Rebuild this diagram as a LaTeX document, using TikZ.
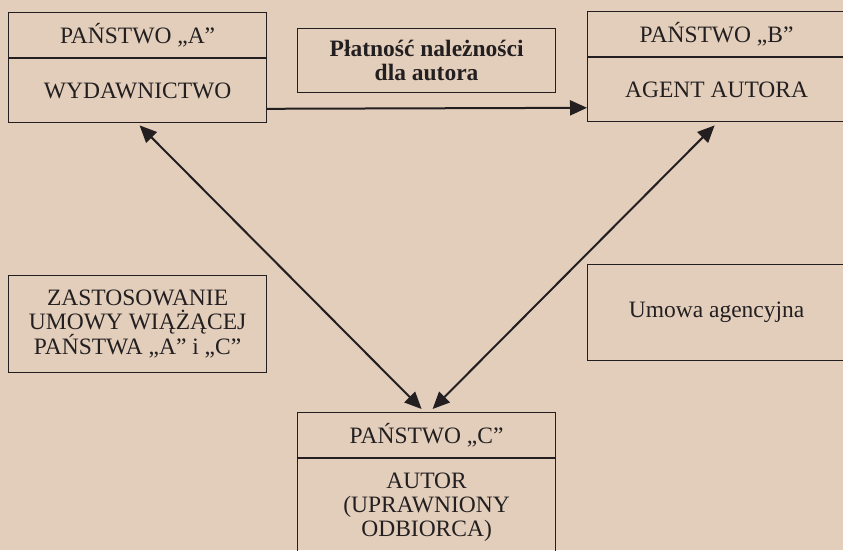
\documentclass[tikz,border=0pt]{standalone}
\usepackage{fontspec}
\setmainfont{Liberation Serif}
\usetikzlibrary{arrows.meta}
\definecolor{tlo}{RGB}{226,206,187}
\definecolor{tusz}{RGB}{35,31,32}

\begin{document}
\begin{tikzpicture}[x=1pt, y=-1pt,
  >={Triangle[length=17pt, width=15pt]},
  ramka/.style={draw=tusz, line width=1.2pt, text=tusz, align=center,
    inner sep=0pt, anchor=north west, minimum width=258pt,
    font=\fontsize{23.5}{24}\selectfont},
  strzalka/.style={draw=tusz, line width=2pt}]
  % --- background ---
  \useasboundingbox (0,0) rectangle (843,550);
  \fill[tlo] (0,0) rectangle (843,550);
  \clip (0,0) rectangle (843,550);

  % --- Panstwo A ---
  \node[ramka, minimum height=45pt] (panA) at (8,12) {PAŃSTWO „A”};
  \node[ramka, minimum height=64pt] (wydA) at (panA.south west) {WYDAWNICTWO};

  % --- Panstwo B ---
  \node[ramka, minimum height=45pt] (panB) at (587,11) {PAŃSTWO „B”};
  \node[ramka, minimum height=64pt] (agentB) at (panB.south west) {AGENT AUTORA};

  % --- Panstwo C ---
  \node[ramka, minimum height=45pt] (panC) at (297,412) {PAŃSTWO „C”};
  \node[ramka, minimum height=96pt] (autC) at (panC.south west)
    {AUTOR\\(UPRAWNIONY\\ODBIORCA)};

  % side notes
  \node[ramka, minimum height=64pt, font=\fontsize{23.5}{24}\selectfont\bfseries]
    (plat) at (297,28) {Płatność należności\\dla autora};
  \node[ramka, minimum height=97pt] (umAC) at (8,275)
    {ZASTOSOWANIE\\UMOWY WIĄŻĄCEJ\\PAŃSTWA „A” i „C”};
  \node[ramka, minimum height=96pt] (umAg) at (587,264) {Umowa agencyjna};

  % payment flow
  \draw[strzalka, ->] ([yshift=-18pt]wydA.east) -- ([yshift=-18pt]agentB.west);
  % links with the author
  \draw[strzalka, <->] ([xshift=2pt, yshift=-2pt]wydA.south)
    -- ([xshift=-5pt, yshift=3pt]panC.north);
  \draw[strzalka, <->] ([xshift=-2pt, yshift=-3pt]agentB.south)
    -- ([xshift=6pt, yshift=3pt]panC.north);
\end{tikzpicture}
\end{document}
